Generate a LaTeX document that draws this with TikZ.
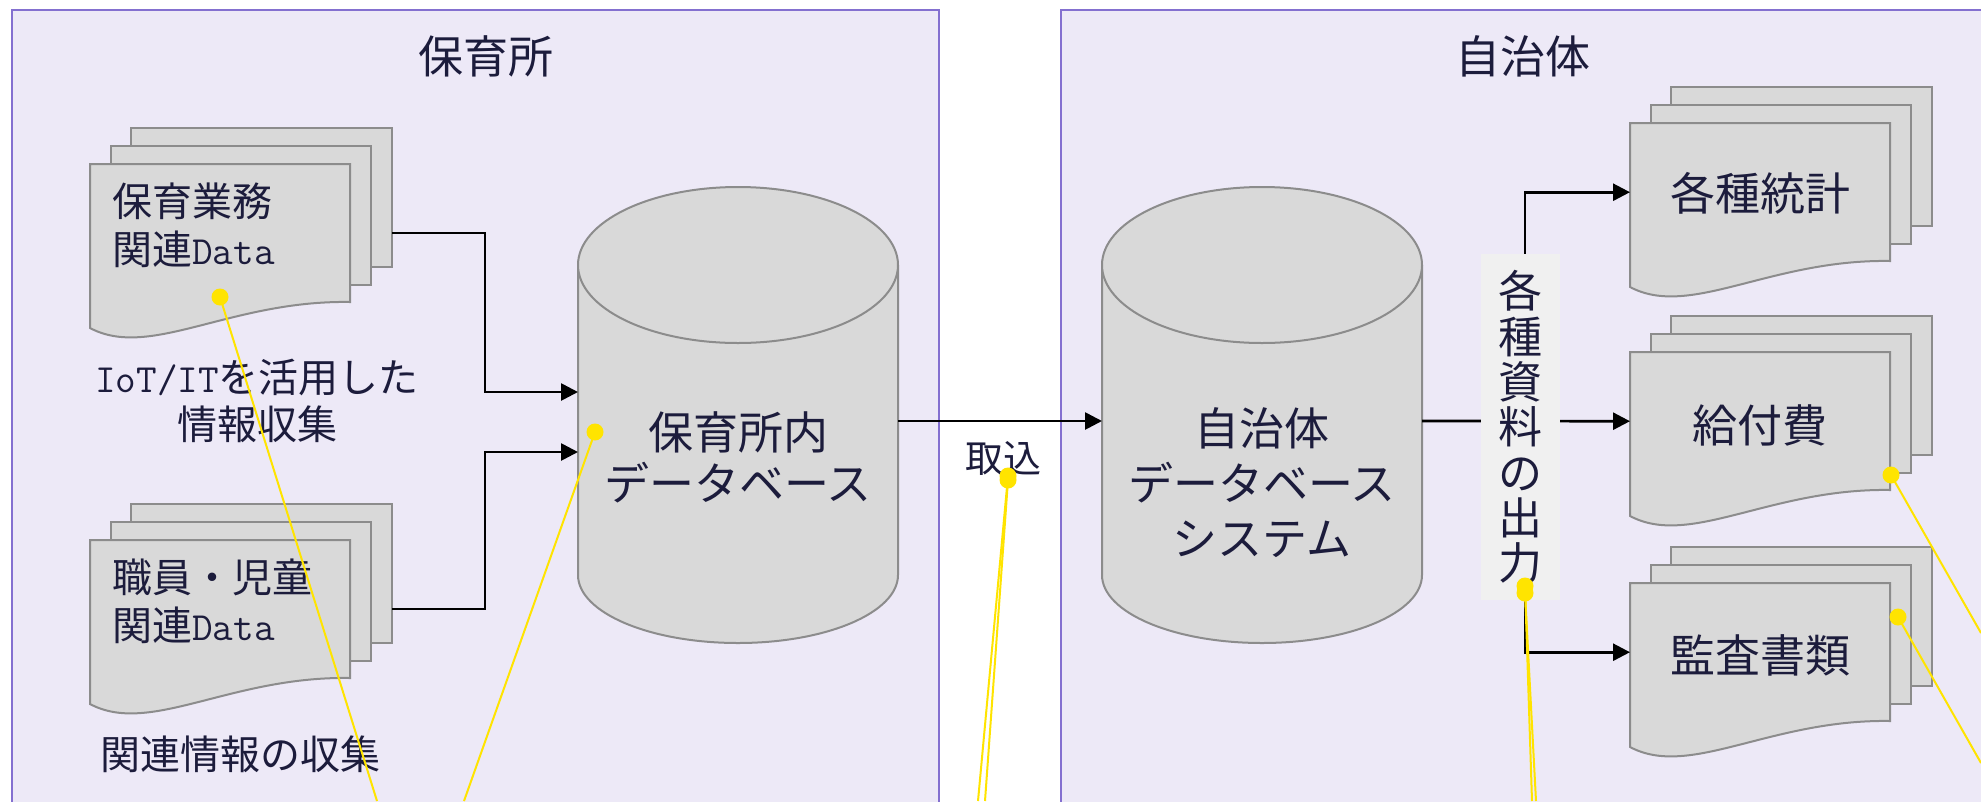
\documentclass[tikz,border=0pt]{standalone}
\usepackage{fontspec}
\setmainfont{Noto Sans CJK JP}
\usetikzlibrary{arrows.meta,calc}
\definecolor{panelfill}{HTML}{EDE9F7}
\definecolor{panelline}{HTML}{8470D0}
\definecolor{sheet}{HTML}{D9D9D9}
\definecolor{sheetline}{HTML}{8C8C8C}
\definecolor{txt}{HTML}{1C1C3C}
\definecolor{lblfill}{HTML}{F0F0F0}
\definecolor{ylw}{HTML}{FFE400}
\tikzset{
  panel/.style={fill=panelfill, draw=panelline, line width=1.5pt},
  sheetstyle/.style={fill=sheet, draw=sheetline, line width=2pt},
  cylstyle/.style={fill=sheet, draw=sheetline, line width=2pt},
  lbl/.style={text=txt, inner sep=0pt},
  bigtxt/.style={lbl, font=\fontsize{45}{52}\selectfont, align=center},
  doctxt/.style={lbl, font=\fontsize{40}{48}\selectfont, align=left},
  midtxt/.style={lbl, font=\fontsize{40}{47}\selectfont, align=center},
  arr/.style={draw=black, line width=2.7pt, -{Triangle[length=17pt, width=17pt]}},
  ydot/.style={circle, fill=ylw, minimum size=17pt, inner sep=0pt},
  yline/.style={draw=ylw, line width=2pt},
  hole/.style={inner sep=0pt, minimum width=260pt, minimum height=138pt, anchor=north west}
}
\newcommand\docstack[3]{%
  \filldraw[sheetstyle] ({#1+41},{#2-36}) rectangle ({#1+302},{#2+103});
  \filldraw[sheetstyle] ({#1+21},{#2-18}) rectangle ({#1+281},{#2+121});
  \filldraw[sheetstyle] (#1,#2) -- ({#1+260},#2) -- ({#1+260},{#2+138})
     .. controls ({#1+140},{#2+136}) and ({#1+60},{#2+196}) .. (#1,{#2+164}) -- cycle;
  \node[hole] (#3) at (#1,#2) {};
  \coordinate (#3-out) at ({#1+302},{#2+69});
}
\begin{document}
\begin{tikzpicture}[x=1pt, y=-1pt]
\useasboundingbox (0,0) rectangle (1981,801);
\clip (0,0) rectangle (1981,801);
\fill[white] (0,0) rectangle (1981,801);
% panels
\draw[panel] (12,10) rectangle (939,840);
\draw[panel] (1061,10) rectangle (2020,840);
\node[bigtxt] (t1) at (486,56) {保育所};
\node[bigtxt] (t2) at (1523,56) {自治体};
% document stacks
\docstack{90}{164}{dA}
\docstack{90}{540}{dB}
\docstack{1630}{123}{stat}
\docstack{1630}{352}{pay}
\docstack{1630}{583}{audit}
\node[doctxt, anchor=west] (dAt) at (112,225) {保育業務\\関連\texttt{Data}};
\node[doctxt, anchor=west] (dBt) at (112,601) {職員・児童\\関連\texttt{Data}};
\node[bigtxt] (statt) at (1760,193) {各種統計};
\node[bigtxt] (payt) at (1760,425) {給付費};
\node[bigtxt] (auditt) at (1760,655) {監査書類};
\node[midtxt] (c1) at (257,401) {\texttt{IoT/IT}を活用した\\情報収集};
\node[midtxt] (c2) at (240,754) {関連情報の収集};
% cylinder 1
\filldraw[cylstyle] (578,265) -- (578,575) .. controls (578,612.6) and (649.6,643) .. (738,643)
   .. controls (826.4,643) and (898,612.6) .. (898,575) -- (898,265);
\filldraw[cylstyle] (738,265) ellipse [x radius=160, y radius=78];
\node[inner sep=0pt, minimum width=320pt, minimum height=456pt] (db1) at (738,415) {};
\node[lbl, font=\fontsize{45}{51}\selectfont, align=center] (db1t) at (738,457) {保育所内\\データベース};
% cylinder 2
\filldraw[cylstyle] (1102,265) -- (1102,575) .. controls (1102,612.6) and (1173.6,643) .. (1262,643)
   .. controls (1350.4,643) and (1422,612.6) .. (1422,575) -- (1422,265);
\filldraw[cylstyle] (1262,265) ellipse [x radius=160, y radius=78];
\node[inner sep=0pt, minimum width=320pt, minimum height=456pt] (db2) at (1262,415) {};
\node[lbl, font=\fontsize{45}{55}\selectfont, align=center] (db2t) at (1262,483) {自治体\\データベース\\システム};
% connector points
\coordinate (db1a) at (578,392);
\coordinate (db1b) at (578,452);
\coordinate (db1e) at (898,421);
\coordinate (db2w) at (1102,421);
\coordinate (db2e) at (1422,421);
\coordinate (bend1) at (485,0);
\coordinate (lbltop) at (1525,254);
\coordinate (lblbot) at (1525,600);
% arrows
\draw[arr] (dA-out) -- (dA-out -| bend1) |- (db1a);
\draw[arr] (dB-out) -- (dB-out -| bend1) |- (db1b);
\draw[arr] (db1e) -- (db2w);
\node[lbl, font=\fontsize{38}{44}\selectfont] (take) at (1003,458) {取込};
\draw[arr] (db2e) -- (pay.west);
\draw[arr] (lbltop) |- (stat.west);
\draw[arr] (lblbot) |- (audit.west);
% vertical label box
\node[fill=lblfill, inner sep=0pt, minimum width=79pt, minimum height=346pt,
      text=txt, font=\fontsize{44}{45.3}\selectfont, align=center] (out) at (1520,427)
      {各\\種\\資\\料\\の\\出\\力};
% yellow leader lines
\node[ydot] (p1) at (220,297) {};
\node[ydot] (p2) at (595,432) {};
\node[ydot] (p3) at (1008,476) {};
\node[ydot] (p3b) at (1008,480) {};
\node[ydot] (p4) at (1525,586) {};
\node[ydot] (p4b) at (1525,593) {};
\node[ydot] (p5) at (1891,475) {};
\node[ydot] (p6) at (1898,617) {};
\coordinate (e1) at (377,801);
\coordinate (e2) at (464,801);
\coordinate (e3) at (978,801);
\coordinate (e3b) at (985,801);
\coordinate (e4) at (1532,801);
\coordinate (e4b) at (1536,801);
\coordinate (e5) at (1981,633);
\coordinate (e6) at (1981,763);
\draw[yline] (p1.center) -- (e1);
\draw[yline] (p2.center) -- (e2);
\draw[yline] (p3.center) -- (e3);
\draw[yline] (p3b.center) -- (e3b);
\draw[yline] (p4.center) -- (e4);
\draw[yline] (p4b.center) -- (e4b);
\draw[yline] (p5.center) -- (e5);
\draw[yline] (p6.center) -- (e6);
\end{tikzpicture}
\end{document}
